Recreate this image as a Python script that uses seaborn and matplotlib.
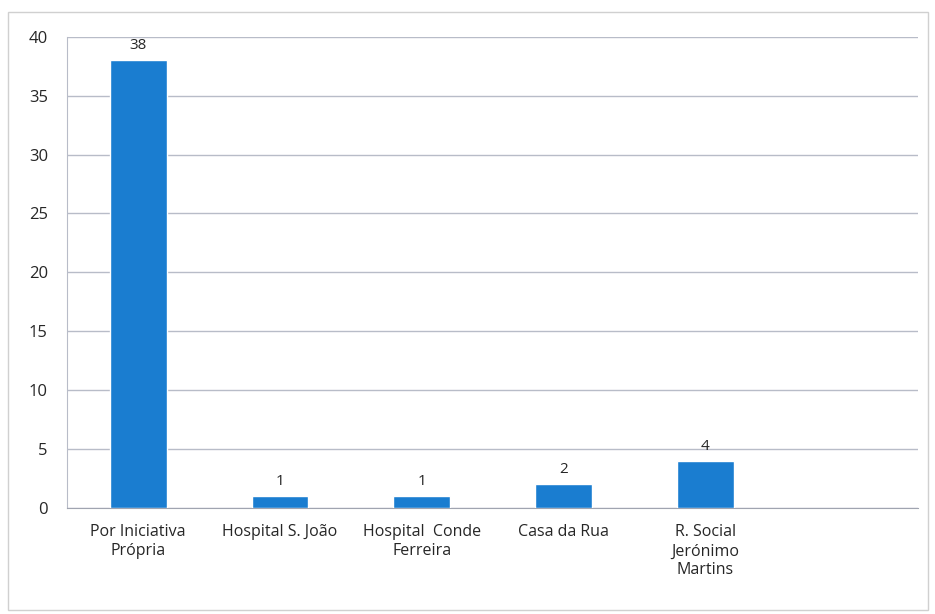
import matplotlib
matplotlib.use("Agg")
import matplotlib.pyplot as plt
import seaborn as sns
import pandas as pd

# Values
categories = ["Por Iniciativa\nPrópria", "Hospital S. João", "Hospital  Conde\nFerreira",
              "Casa da Rua", "R. Social\nJerónimo\nMartins"]
counts = [38, 1, 1, 2, 4]

df = pd.DataFrame({"Origem": categories, "N": counts})

sns.set_style("white")
plt.rcParams["font.family"] = ["Open Sans", "DejaVu Sans"]

fig = plt.figure(figsize=(9.35, 6.14), dpi=100)
ax = fig.add_axes([0.072, 0.173, 0.91, 0.767])

sns.barplot(data=df, x="Origem", y="N", color="#1a7dd0", saturation=1,
            width=0.4, ax=ax, zorder=3)

for container in ax.containers:
    ax.bar_label(container, padding=5, fontsize=11, color="#262626")

ax.set_xlim(-0.5, 5.5)
ax.set_ylim(0, 40)
ax.set_yticks(range(0, 41, 5))
ax.yaxis.grid(True, color="#b8bcc8", linewidth=1, zorder=0)
ax.set_xlabel("")
ax.set_ylabel("")
ax.tick_params(axis="y", labelsize=12, labelcolor="#262626", length=0, pad=14)
ax.tick_params(axis="x", labelsize=11.5, labelcolor="#262626", length=0, pad=12)
for lbl in ax.get_xticklabels():
    lbl.set_linespacing(1.25)

for side in ["top", "right"]:
    ax.spines[side].set_visible(False)
ax.spines["left"].set_color("#b8bcc8")
ax.spines["bottom"].set_color("#a0a4b0")

# light frame around the whole chart
fig.patches.append(plt.Rectangle((0.009, 0.006), 0.983, 0.975, transform=fig.transFigure,
                                 fill=False, edgecolor="#d0d0d0", linewidth=1))

fig.savefig("out.png", dpi=100)
